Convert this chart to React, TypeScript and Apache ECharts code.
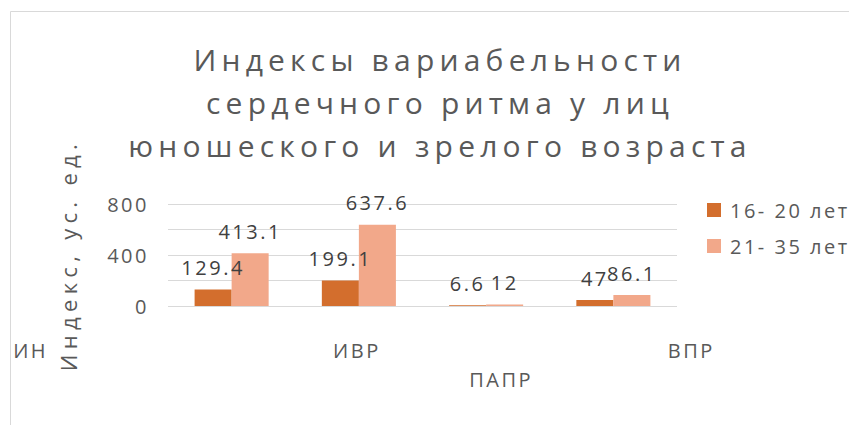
import React, { useEffect, useRef } from "react";
import * as echarts from "echarts";

const titleText = "Индексы вариабельности\nсердечного ритма у лиц\nюношеского и зрелого возраста";
const yAxisName = "Индекс, ус. ед.";
const categories = ["ИН", "ИВР", "ПАПР", "ВПР"];
const seriesNames = ["16- 20 лет", "21- 35 лет"];
const youngValues = [129.4, 199.1, 6.6, 47];
const matureValues = [413.1, 637.6, 12, 86.1];
const yMin = 0;
const yMax = 800;
const yStep = 200;
const yLabelStep = 400;

// label offsets reproduce the reference's staggered category labels
const categoryLabelPadding = [
  [0, 402, 0, 0],
  [0, 4, 0, 0],
  [29, 0, 0, 30],
  [0, 0, 0, 156],
];

const FONT = "Open Sans";
const TEXT = "#595959";

export default function App() {
  const ref = useRef<HTMLDivElement>(null);
  useEffect(() => {
    if (!ref.current) return;
    const chart = echarts.init(ref.current, undefined, { renderer: "svg" });
    const applySpacing = () => {
      if (!ref.current) return;
      ref.current.querySelectorAll("text").forEach((t) => {
        const fs = parseFloat(getComputedStyle(t).fontSize || "0");
        let ls = 2.5;
        if (fs >= 28) ls = 5.2;
        else if (fs >= 21.5) ls = 5.3;
        (t as SVGTextElement).style.letterSpacing = ls + "px";
      });
    };
    chart.on("finished", applySpacing);
    chart.setOption({
      animation: false,
      backgroundColor: "#ffffff",
      textStyle: { fontFamily: FONT },
      title: {
        text: titleText,
        left: 440,
        top: 38,
        textAlign: "center",
        padding: 0,
        textStyle: {
          fontFamily: FONT,
          fontSize: 30,
          fontWeight: "normal",
          color: TEXT,
          lineHeight: 43,
        },
      },
      graphic: [
        {
          type: "rect",
          shape: { x: 10.5, y: 11.5, width: 900, height: 500 },
          style: { fill: "none", stroke: "#D9D9D9", lineWidth: 1 },
          silent: true,
        },
      ],
      legend: {
        orient: "vertical",
        left: 702,
        top: 195,
        itemWidth: 14,
        itemHeight: 14,
        itemGap: 16,
        icon: "rect",
        textStyle: {
          fontFamily: FONT,
          fontSize: 20,
          color: TEXT,
          padding: [0, 0, 0, 4],
        },
        data: seriesNames,
      },
      grid: { left: 168, right: 172, top: 204, bottom: 119, containLabel: false },
      xAxis: {
        type: "category",
        data: categories.map((c, i) => ({
          value: c,
          textStyle: { padding: categoryLabelPadding[i] },
        })),
        axisLine: { show: false },
        axisTick: { show: false },
        axisLabel: {
          interval: 0,
          margin: 34,
          fontFamily: FONT,
          fontSize: 20,
          color: TEXT,
        },
      },
      yAxis: {
        type: "value",
        min: yMin,
        max: yMax,
        interval: yStep,
        name: yAxisName,
        nameLocation: "middle",
        nameGap: 89,
        nameRotate: 90,
        nameTextStyle: { fontFamily: FONT, fontSize: 22, color: TEXT },
        axisLine: { show: false },
        axisTick: { show: false },
        axisLabel: {
          margin: 19,
          fontFamily: FONT,
          fontSize: 20,
          color: TEXT,
          formatter: (v: number) => (v % yLabelStep === 0 ? String(v) : ""),
        },
        splitLine: { lineStyle: { color: "#D9D9D9", width: 1 } },
      },
      series: [
        {
          name: seriesNames[0],
          type: "bar",
          data: youngValues,
          barGap: "0%",
          barCategoryGap: "41.8%",
          itemStyle: { color: "#D36E2D" },
          label: {
            show: true,
            position: "top",
            distance: 12,
            fontFamily: FONT,
            fontSize: 20,
            color: "#404040",
          },
        },
        {
          name: seriesNames[1],
          type: "bar",
          data: matureValues,
          barGap: "0%",
          barCategoryGap: "41.8%",
          itemStyle: { color: "#F2A88A" },
          label: {
            show: true,
            position: "top",
            distance: 12,
            fontFamily: FONT,
            fontSize: 20,
            color: "#404040",
          },
        },
      ],
    });
    applySpacing();
    const t = setTimeout(applySpacing, 50);
    return () => {
      clearTimeout(t);
      chart.dispose();
    };
  }, []);
  return (
    <div
      ref={ref}
      style={{ position: "fixed", left: 0, top: 0, width: 849, height: 425, background: "#fff" }}
    />
  );
}
